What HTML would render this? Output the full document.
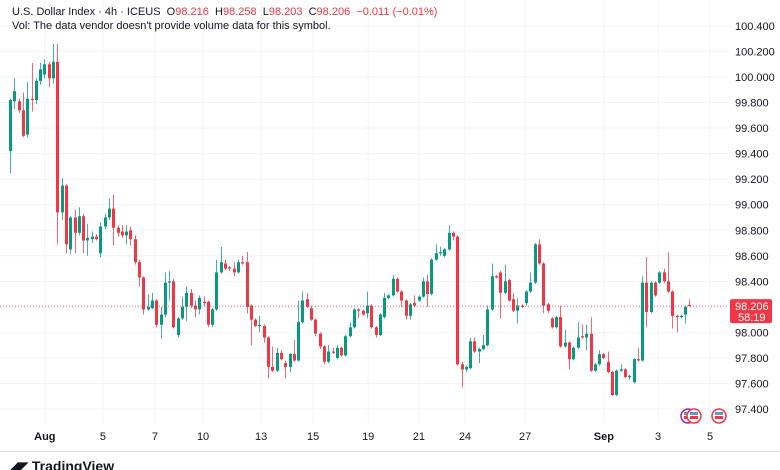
<!DOCTYPE html>
<html><head><meta charset="utf-8">
<style>
html,body{margin:0;padding:0;background:#fff;width:780px;height:470px;overflow:hidden;font-family:"Liberation Sans",sans-serif;}
#wrap{position:relative;width:780px;height:470px;}
.hdr{position:absolute;left:12px;font-size:11px;color:#131722;white-space:nowrap;}
.hdr .v{color:#f23645;}
</style></head>
<body>
<div id="wrap">
<svg id="chart" width="780" height="470" style="position:absolute;left:0;top:0"></svg>
<div class="hdr" style="top:6px">U.S. Dollar Index · 4h · ICEUS&nbsp; O<span class="v">98.216</span>&nbsp; H<span class="v">98.258</span>&nbsp; L<span class="v">98.203</span>&nbsp; C<span class="v">98.206</span>&nbsp; <span class="v">−0.011 (−0.01%)</span></div>
<div class="hdr" style="top:20px">Vol: The data vendor doesn't provide volume data for this symbol.</div>
<div style="position:absolute;left:8px;top:458px;font-size:14px;font-weight:bold;color:#131722"><span style="font-size:13px">◢◤</span> TradingView</div>
</div>
<script>
const opens=[99.42,99.81,99.81,99.74,99.55,99.83,99.82,99.97,100.02,100.10,99.99,100.12,98.94,99.15,98.65,98.90,98.78,98.91,98.72,98.73,98.75,98.62,98.83,98.90,98.97,98.82,98.79,98.76,98.80,98.73,98.55,98.43,98.18,98.19,98.25,98.06,98.14,98.39,98.40,97.98,98.11,98.20,98.31,98.21,98.18,98.24,98.24,98.06,98.18,98.47,98.54,98.51,98.50,98.47,98.55,98.55,98.21,98.10,98.05,98.05,97.96,97.73,97.70,97.84,97.76,97.73,97.83,97.78,98.08,98.26,98.19,98.10,97.99,97.89,97.77,97.85,97.80,97.88,97.82,97.97,98.04,98.18,98.17,98.15,98.21,98.04,97.98,98.12,98.27,98.29,98.42,98.32,98.25,98.13,98.23,98.25,98.28,98.40,98.30,98.57,98.62,98.60,98.65,98.78,98.75,97.75,97.71,97.72,97.93,97.85,97.87,97.90,98.18,98.44,98.47,98.31,98.41,98.26,98.17,98.21,98.23,98.32,98.39,98.69,98.54,98.22,98.11,98.04,98.12,97.89,97.92,97.79,97.88,97.97,97.96,97.99,97.70,97.75,97.83,97.77,97.69,97.51,97.70,97.71,97.65,97.61,97.79,97.78,98.39,98.16,98.39,98.39,98.47,98.40,98.32,98.13,98.12,98.14,98.216];
const highs=[99.83,99.99,99.83,99.88,99.96,100.11,99.99,100.11,100.14,100.12,100.26,100.26,99.21,99.16,98.91,98.96,98.98,98.93,98.85,98.79,98.77,98.86,98.93,99.05,99.08,98.84,98.84,98.84,98.83,98.76,98.57,98.44,98.30,98.31,98.26,98.20,98.47,98.48,98.42,98.12,98.28,98.36,98.34,98.25,98.29,98.28,98.25,98.19,98.57,98.67,98.57,98.52,98.55,98.57,98.60,98.63,98.22,98.11,98.13,98.06,97.97,97.89,97.88,97.86,97.78,97.84,97.94,98.25,98.32,98.31,98.21,98.11,98.00,97.90,97.90,97.88,97.90,97.89,97.98,98.08,98.19,98.19,98.18,98.32,98.22,98.05,98.15,98.31,98.30,98.45,98.43,98.33,98.26,98.23,98.29,98.29,98.43,98.45,98.58,98.69,98.67,98.66,98.84,98.79,98.76,97.77,97.74,97.96,97.96,97.88,97.98,98.21,98.54,98.45,98.48,98.53,98.42,98.31,98.27,98.22,98.33,98.47,98.70,98.73,98.55,98.23,98.12,98.13,98.21,98.02,97.93,97.89,98.08,98.06,98.06,98.12,97.76,97.86,97.84,97.85,97.70,97.71,97.75,97.72,97.67,97.80,97.88,98.44,98.59,98.40,98.40,98.48,98.50,98.63,98.33,98.14,98.14,98.21,98.258];
const lows=[99.25,99.75,99.72,99.53,99.53,99.73,99.79,99.94,99.99,99.92,99.95,98.69,98.88,98.62,98.61,98.62,98.76,98.62,98.60,98.70,98.72,98.59,98.81,98.88,98.68,98.75,98.74,98.69,98.68,98.53,98.36,98.14,98.17,98.18,98.04,97.95,98.12,98.25,98.03,97.96,98.10,98.09,98.19,98.12,98.14,98.21,98.04,98.04,98.17,98.46,98.49,98.48,98.44,98.46,98.53,98.15,97.90,98.04,98.00,97.92,97.64,97.69,97.69,97.78,97.64,97.69,97.77,97.77,98.07,98.19,98.09,97.97,97.87,97.75,97.76,97.83,97.79,97.81,97.81,97.96,98.03,98.11,98.13,98.11,98.03,97.96,97.97,98.11,98.26,98.28,98.31,98.20,98.10,98.10,98.20,98.24,98.27,98.20,98.29,98.56,98.60,98.59,98.64,98.72,97.74,97.57,97.69,97.71,97.84,97.76,97.86,97.89,98.17,98.42,98.11,98.30,98.24,98.16,98.07,98.19,98.21,98.31,98.38,98.53,98.15,98.15,98.03,98.03,97.88,97.88,97.71,97.78,97.87,97.95,97.86,97.69,97.69,97.74,97.79,97.68,97.50,97.50,97.69,97.64,97.63,97.60,97.77,97.77,98.04,98.15,98.28,98.38,98.39,98.31,98.03,98.00,98.11,98.07,98.203];
const closes=[99.82,99.89,99.74,99.54,99.83,99.82,99.97,100.06,100.10,99.99,100.12,98.94,99.15,98.69,98.90,98.78,98.91,98.72,98.74,98.75,98.73,98.83,98.90,98.97,98.82,98.78,98.76,98.79,98.73,98.55,98.43,98.18,98.20,98.25,98.06,98.14,98.39,98.40,98.04,98.11,98.20,98.31,98.21,98.18,98.27,98.23,98.06,98.18,98.47,98.55,98.50,98.50,98.47,98.55,98.54,98.20,98.10,98.05,98.06,97.96,97.73,97.70,97.84,97.79,97.73,97.83,97.78,98.08,98.25,98.20,98.10,97.99,97.89,97.77,97.85,97.84,97.88,97.82,97.97,98.04,98.18,98.17,98.14,98.21,98.04,97.98,98.14,98.27,98.29,98.42,98.32,98.25,98.13,98.22,98.21,98.28,98.40,98.30,98.57,98.62,98.63,98.65,98.78,98.75,97.75,97.71,97.73,97.93,97.85,97.87,97.90,98.18,98.44,98.43,98.31,98.40,98.25,98.17,98.21,98.20,98.32,98.39,98.69,98.54,98.21,98.17,98.04,98.12,97.89,97.92,97.79,97.88,97.96,97.96,97.99,97.70,97.75,97.83,97.80,97.69,97.51,97.70,97.71,97.65,97.66,97.79,97.78,98.39,98.16,98.39,98.29,98.47,98.40,98.32,98.13,98.12,98.13,98.20,98.206];
const priceTicks=[100.4,100.2,100.0,99.8,99.6,99.4,99.2,99.0,98.8,98.6,98.4,98.2,98.0,97.8,97.6,97.4];
const dateLabels=["Aug","5","7","10","13","15","19","21","24","27","Sep","3","5"];
const dateIdx=[8.1,21.6,33.7,44.9,58.4,70.5,83.3,95.1,105.8,119.8,138.1,150.7,162.8];
const boldLabels=["Aug","Sep"];
const lastPrice=98.206;
const countdown="58:19";

const NS="http://www.w3.org/2000/svg";
const svg=document.getElementById('chart');
const UP="#089981",DN="#f23645";
function yS(p){return 26+(100.4-p)*127.67;}
function xS(i){return 10+i*4.3;}
function mk(tag,attrs,parent){const e=document.createElementNS(NS,tag);for(const k in attrs)e.setAttribute(k,attrs[k]);(parent||svg).appendChild(e);return e;}

// grid
const grid=mk('g',{});


priceTicks.forEach(p=>{const l=mk('line',{x1:0,x2:728,y1:yS(p),y2:yS(p),stroke:"#f0f3fa","stroke-width":1},grid);

});
dateIdx.forEach(i=>{const l=mk('line',{x1:xS(i),x2:xS(i),y1:0,y2:425,stroke:"#f0f3fa","stroke-width":1},grid);

});

// axes borders
const ab=mk('line',{x1:0,x2:780,y1:451.5,y2:451.5,stroke:"#e0e3eb","stroke-width":1});



// candles
const cg=mk('g',{});


for(let i=0;i<opens.length;i++){
  const o=opens[i],h=highs[i],l=lows[i],c=closes[i];
  const col=c>=o?UP:DN;const x=Math.round(xS(i));
  const g=mk('g',{},cg);
  
  
  mk('line',{x1:x+0.5,x2:x+0.5,y1:yS(h),y2:yS(l),stroke:col,"stroke-width":1,opacity:0.75},g);
  const top=yS(Math.max(o,c)),bot=yS(Math.min(o,c));
  mk('rect',{x:x-1,y:top,width:3,height:Math.max(1,bot-top),fill:col},g);
}

// last price line
const lp=mk('line',{x1:0,x2:728,y1:yS(lastPrice),y2:yS(lastPrice),stroke:DN,"stroke-width":1,"stroke-dasharray":"1 2",opacity:0.7});



// price axis labels
priceTicks.forEach(p=>{const t=mk('text',{x:735,y:yS(p)+4,"font-size":11,fill:"#131722","font-family":"Liberation Sans, sans-serif"});
t.textContent=p.toFixed(3);

});

// last price badge
const bg=mk('g',{});


mk('rect',{x:730,y:yS(lastPrice)-7,width:42,height:24,rx:2,fill:DN},bg);
const t1=mk('text',{x:735,y:yS(lastPrice)+4,"font-size":11,fill:"#fff","font-family":"Liberation Sans, sans-serif"},bg);t1.textContent=lastPrice.toFixed(3);
const t2=mk('text',{x:738,y:yS(lastPrice)+15,"font-size":11,fill:"#fff","font-family":"Liberation Sans, sans-serif"},bg);t2.textContent=countdown;

// date labels
dateLabels.forEach((d,k)=>{const t=mk('text',{x:xS(dateIdx[k]),y:440,"font-size":11,"text-anchor":"middle",fill:"#131722","font-weight":boldLabels.includes(d)?"bold":"normal","font-family":"Liberation Sans, sans-serif"});
t.textContent=d;

});

// event icons
[[688,"#9c27b0"],[694,DN],[719,DN]].forEach(([x,col])=>{const c=mk('circle',{cx:x,cy:416,r:7,fill:"#fff",stroke:col,"stroke-width":1.5});


mk('rect',{x:x-4,y:412,width:8,height:3,fill:"#5b9bd5"});mk('rect',{x:x-4,y:416,width:8,height:3,fill:DN});});
</script>
</body></html>
